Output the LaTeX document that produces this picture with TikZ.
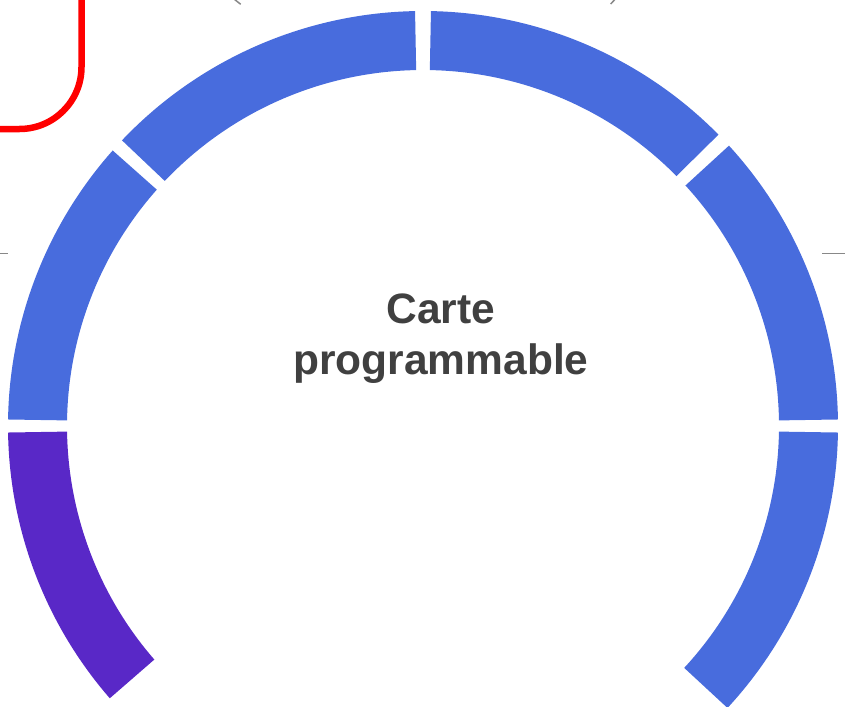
\documentclass[tikz,border=0pt]{standalone}
\usepackage{fontspec}
\setmainfont{Liberation Sans}
\definecolor{segblue}{RGB}{72,108,221}
\definecolor{segpurple}{RGB}{89,40,199}
\definecolor{txtgray}{RGB}{64,64,64}
\definecolor{linegray}{RGB}{136,136,136}
\tikzset{
  seg/.style={draw=none},
  thinline/.style={draw=linegray, line width=1.5pt},
  redframe/.style={draw=red, line width=6.5pt, rounded corners=62pt},
  title/.style={text=txtgray, font=\fontsize{42.5}{51}\selectfont\bfseries, align=center, inner sep=0pt}
}
\newcommand{\ringseg}[3]{%
  \fill[#3] ([shift={(#1:415pt)}]ctr) arc[start angle=#1, end angle=#2, radius=415pt]
    -- ([shift={(#2:356pt)}]ctr) arc[start angle=#2, end angle=#1, radius=356pt] -- cycle;}
\begin{document}
\begin{tikzpicture}[x=1pt,y=1pt]
\useasboundingbox (0,0) rectangle (845,-706);
\clip (0,0) rectangle (845,-706);
\coordinate (ctr) at (423,-426);
% ring segments
\ringseg{180.9}{221}{segpurple}
\ringseg{138.4}{179.1}{segblue}
\ringseg{91.1}{136.5}{segblue}
\ringseg{44.6}{88.9}{segblue}
\ringseg{0.9}{42.5}{segblue}
\ringseg{-42.8}{-0.9}{segblue}
% red frame corner
\coordinate (rf1) at (81.5,20);
\coordinate (rf2) at (81.5,-129);
\coordinate (rf3) at (-20,-129);
\draw[redframe] (rf1) -- (rf2) -- (rf3);
% gray lines
\coordinate (gl1) at (0,-253.5);
\coordinate (gl2) at (8,-253.5);
\coordinate (gr1) at (822,-253.5);
\coordinate (gr2) at (845,-253.5);
\draw[thinline] (gl1) -- (gl2);
\draw[thinline] (gr1) -- (gr2);
\coordinate (tl1) at (234,1);
\coordinate (tl2) at (240.7,-4.3);
\coordinate (tr1) at (615.3,1);
\coordinate (tr2) at (610.7,-4);
\draw[thinline] (tl1) -- (tl2);
\draw[thinline] (tr1) -- (tr2);
% title
\node[title] (lbl) at (441,-339) {Carte\\programmable};
\end{tikzpicture}
\end{document}
